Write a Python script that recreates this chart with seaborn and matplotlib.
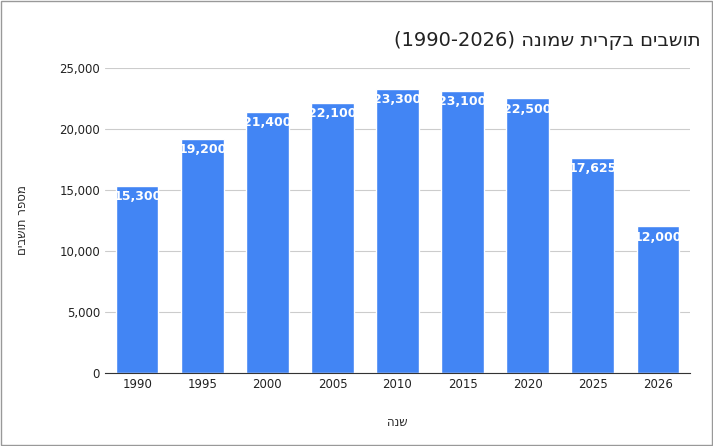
import matplotlib
matplotlib.use("Agg")
import matplotlib.pyplot as plt
import seaborn as sns
import pandas as pd
from matplotlib.ticker import FuncFormatter

years = ["1990", "1995", "2000", "2005", "2010", "2015", "2020", "2025", "2026"]
residents = [15300, 19200, 21400, 22100, 23300, 23100, 22500, 17625, 12000]

# matplotlib has no bidi support, so the Hebrew is written in visual order
def heb(s):
    return s[::-1]

title = "(1990-2026) " + heb("תושבים בקרית שמונה")
ylab = heb("מספר תושבים")
xlab = heb("שנה")

sns.set_style("white")
plt.rcParams['font.family'] = ['DejaVu Sans']

df = pd.DataFrame({"year": years, "value": residents})
fig = plt.figure(figsize=(7.13, 4.46), dpi=100)
ax = fig.add_axes([0.147, 0.164, 0.821, 0.684])
sns.barplot(data=df, x="year", y="value", color="#4285F4", saturation=1, width=0.65, ax=ax)

for p, v in zip(ax.patches, residents):
    ax.text(p.get_x() + p.get_width() / 2, v - 350, f"{v:,}", ha="center", va="top",
            color="white", fontsize=9, fontweight="bold")

ax.set_ylim(0, 25000)
ax.set_yticks(range(0, 25001, 5000))
ax.yaxis.set_major_formatter(FuncFormatter(lambda v, _: f"{int(v):,}"))
ax.grid(axis="y", color="#cccccc", linewidth=0.8)
ax.set_axisbelow(True)
for s in ["top", "right", "left"]:
    ax.spines[s].set_visible(False)
ax.spines["bottom"].set_color("#333333")
ax.tick_params(axis="both", length=0, labelsize=8.5, colors="#222222")
ax.set_xlabel(xlab, fontsize=8.5, labelpad=18)
ax.set_ylabel(ylab, fontsize=8.5, labelpad=22)
fig.text(0.982, 0.91, title, ha="right", va="center", fontsize=14, color="#222222")

fig.patches.append(plt.Rectangle((0.002, 0.003), 0.996, 0.994, transform=fig.transFigure,
                                 fill=False, edgecolor="#999999", linewidth=1))
fig.savefig("out.png", dpi=100)
